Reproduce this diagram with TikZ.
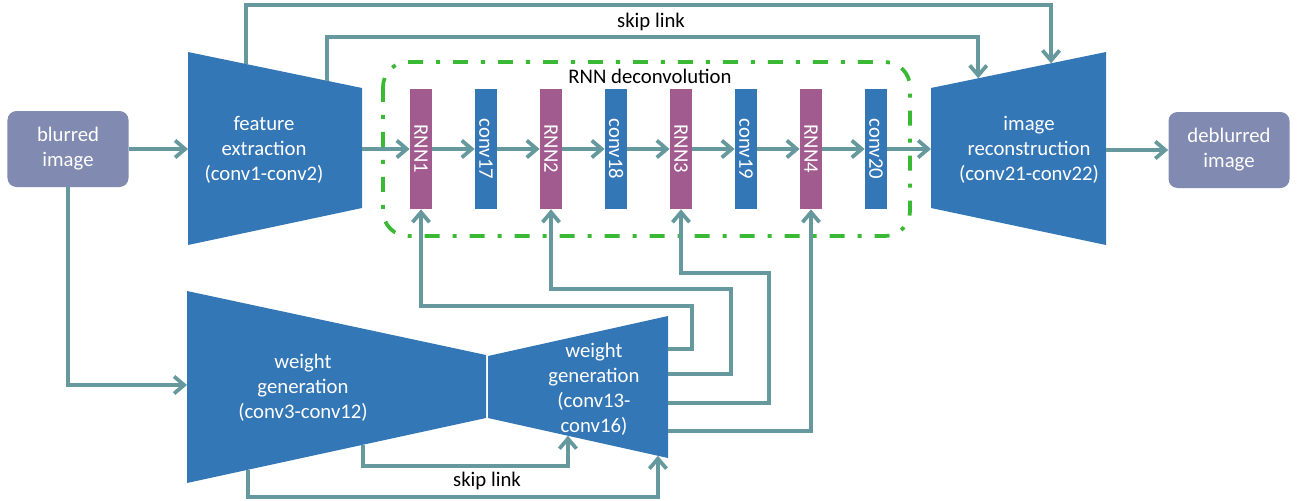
\documentclass[tikz,border=0pt]{standalone}
\usepackage{fontspec}
\setmainfont{Carlito}
\usepackage{graphicx}
\usetikzlibrary{calc,arrows.meta}

\definecolor{blockblue}{RGB}{52,119,183}
\definecolor{rnnpurple}{RGB}{161,91,142}
\definecolor{ioblue}{RGB}{129,138,177}
\definecolor{linkteal}{RGB}{102,153,157}
\definecolor{deconvgreen}{RGB}{58,186,52}

\newcommand\labelfont{\fontsize{11.8}{14.2}\selectfont}
\newcommand\vtext[1]{\rotatebox{-90}{#1}}

\tikzset{
  iobox/.style={fill=ioblue, text=white, rounded corners=1.8mm,
    minimum width=24.2mm, minimum height=15.2mm, align=center,
    font=\labelfont},
  blocktext/.style={text=white, align=center, font=\labelfont},
  rnnbox/.style={fill=rnnpurple, text=white, minimum width=4.4mm,
    minimum height=24mm, inner sep=0pt, font=\labelfont},
  convbox/.style={rnnbox, fill=blockblue},
  plaintext/.style={text=black, font=\labelfont},
  link/.style={draw=linkteal, line width=0.75mm,
    -{Straight Barb[length=2mm,width=3.4mm]}},
  deconv/.style={draw=deconvgreen, line width=0.75mm, rounded corners=5mm,
    dash pattern=on 8.5pt off 7.4pt on 2.3pt off 7.4pt}
}

\begin{document}
\begin{tikzpicture}[x=0.2mm, y=-0.2mm]
  \useasboundingbox (0,0) rectangle (1298,500);
  \def\boxSep{65}

  % Input and output: nodes
  \node[iobox] (blur) at (68,149) {blurred\\image};
  \node[iobox] (deblur) at (1229,150) {deblurred\\image};

  % Feature extraction: shape
  \coordinate (fe-nw) at (188,52);
  \coordinate (fe-ne) at (362,88);
  \coordinate (fe-se) at (362,208);
  \coordinate (fe-sw) at (188,245);
  \fill[blockblue] (fe-nw) -- (fe-ne) -- (fe-se) -- (fe-sw) -- cycle;
  \node[blocktext] (fe) at (264,150) {feature\\extraction\\(conv1-conv2)};

  % Image reconstruction: shape
  \coordinate (rc-nw) at (931,88);
  \coordinate (rc-ne) at (1106,52);
  \coordinate (rc-se) at (1106,245);
  \coordinate (rc-sw) at (931,208);
  \fill[blockblue] (rc-nw) -- (rc-ne) -- (rc-se) -- (rc-sw) -- cycle;
  \node[blocktext] (rc) at (1029,150) {image\\reconstruction\\(conv21-conv22)};

  % Weight generation: shapes
  \coordinate (wg1-nw) at (187,291);
  \coordinate (wg1-ne) at (486,355);
  \coordinate (wg1-se) at (486,418);
  \coordinate (wg1-sw) at (187,483);
  \fill[blockblue] (wg1-nw) -- (wg1-ne) -- (wg1-se) -- (wg1-sw) -- cycle;
  \node[blocktext] (wg1) at (303,388) {weight\\generation\\(conv3-conv12)};
  \coordinate (wg2-nw) at (488,356);
  \coordinate (wg2-ne) at (668,316);
  \coordinate (wg2-se) at (668,458);
  \coordinate (wg2-sw) at (488,418);
  \fill[blockblue] (wg2-nw) -- (wg2-ne) -- (wg2-se) -- (wg2-sw) -- cycle;
  \node[blocktext] (wg2) at (594,389) {weight\\generation\\(conv13-\\conv16)};

  % RNN deconvolution: nodes
  \draw[deconv] (383,62) rectangle (910,236);
  \node[plaintext] (deconv-label) at (650,76) {RNN deconvolution};
  \node[rnnbox] (rnn1) at (421,149) {\vtext{RNN1}};
  \node[convbox] (conv17) at ($(rnn1)+(\boxSep,0)$) {\vtext{conv17}};
  \node[rnnbox] (rnn2) at ($(conv17)+(\boxSep,0)$) {\vtext{RNN2}};
  \node[convbox] (conv18) at ($(rnn2)+(\boxSep,0)$) {\vtext{conv18}};
  \node[rnnbox] (rnn3) at ($(conv18)+(\boxSep,0)$) {\vtext{RNN3}};
  \node[convbox] (conv19) at ($(rnn3)+(\boxSep,0)$) {\vtext{conv19}};
  \node[rnnbox] (rnn4) at ($(conv19)+(\boxSep,0)$) {\vtext{RNN4}};
  \node[convbox] (conv20) at ($(rnn4)+(\boxSep,0)$) {\vtext{conv20}};

  % Main path: connections
  \draw[link] (blur.east) -- (blur.east -| fe-sw);
  \draw[link] (fe-ne |- rnn1) -- (rnn1.west);
  \draw[link] (rnn1) -- (conv17);
  \draw[link] (conv17) -- (rnn2);
  \draw[link] (rnn2) -- (conv18);
  \draw[link] (conv18) -- (rnn3);
  \draw[link] (rnn3) -- (conv19);
  \draw[link] (conv19) -- (rnn4);
  \draw[link] (rnn4) -- (conv20);
  \draw[link] (conv20) -- (conv20 -| rc-sw);
  \draw[link] (rc-ne |- deblur) -- (deblur.west);
  \draw[link] (blur.south) |- (wg1-nw |- 0,385);

  % Top skip links
  \coordinate (fe-skip1) at ($(fe-nw)!0.333!(fe-ne)$);
  \coordinate (fe-skip2) at ($(fe-nw)!0.8!(fe-ne)$);
  \coordinate (rc-skip1) at ($(rc-nw)!0.686!(rc-ne)$);
  \coordinate (rc-skip2) at ($(rc-nw)!0.27!(rc-ne)$);
  \draw[link] (fe-skip1) -- (fe-skip1 |- 0,5) -| (rc-skip1);
  \draw[link] (fe-skip2) -- (fe-skip2 |- 0,37) -| (rc-skip2);
  \node[plaintext] (skip-top) at (651,22) {skip link};

  % Bottom skip links
  \coordinate (wg1-skip1) at ($(wg1-sw)!0.589!(wg1-se)$);
  \coordinate (wg1-skip2) at ($(wg1-sw)!0.204!(wg1-se)$);
  \coordinate (wg2-skip1) at ($(wg2-sw)!0.444!(wg2-se)$);
  \coordinate (wg2-skip2) at ($(wg2-sw)!0.944!(wg2-se)$);
  \draw[link] (wg1-skip1) -- (wg1-skip1 |- 0,466) -| (wg2-skip1);
  \draw[link] (wg1-skip2) -- (wg1-skip2 |- 0,497) -| (wg2-skip2);
  \node[plaintext] (skip-bottom) at (487,481) {skip link};

  % Weights into the RNN layers
  \coordinate (wg-out1) at (668,349);
  \coordinate (wg-out2) at (668,374);
  \coordinate (wg-out3) at (668,403);
  \coordinate (wg-out4) at (668,431);
  \draw[link] (wg-out1) -- ++(24,0) |- (rnn1.south |- 0,306) -- (rnn1.south);
  \draw[link] (wg-out2) -- ++(63,0) |- (rnn2.south |- 0,289) -- (rnn2.south);
  \draw[link] (wg-out3) -- ++(101,0) |- (rnn3.south |- 0,273) -- (rnn3.south);
  \draw[link] (wg-out4) -| (rnn4.south);
\end{tikzpicture}
\end{document}
